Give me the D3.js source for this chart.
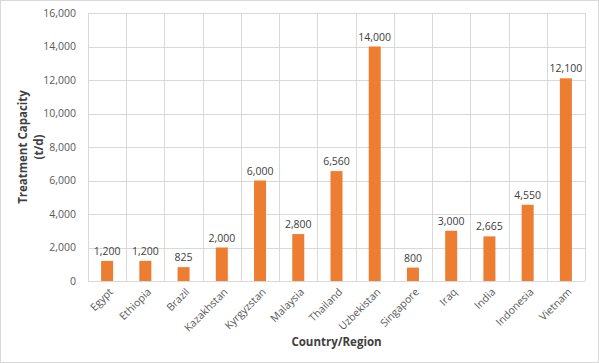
<!DOCTYPE html>
<html><head><meta charset="utf-8">
<script src="https://cdn.jsdelivr.net/npm/d3@7"></script>
<style>body{margin:0;background:#fff;}svg{display:block;font-family:"Open Sans",sans-serif;}</style>
</head><body>
<script>
const categories = ["Egypt","Ethiopia","Brazil","Kazakhstan","Kyrgyzstan","Malaysia","Thailand","Uzbekistan","Singapore","Iraq","India","Indonesia","Vietnam"];
const values = [1200,1200,825,2000,6000,2800,6560,14000,800,3000,2665,4550,12100];
const yTicks = [0,2000,4000,6000,8000,10000,12000,14000,16000];

const W=599,H=363;
const m={left:88,right:14,top:13,bottom:82};
const svg=d3.select("body").append("svg").attr("width",W).attr("height",H);
svg.append("rect").attr("x",0.5).attr("y",0.5).attr("width",W-1).attr("height",H-1).attr("fill","#fff").attr("stroke","#d9d9d9");

const x=d3.scaleBand().domain(categories).range([m.left,W-m.right]).paddingInner(0).paddingOuter(0);
const y=d3.scaleLinear().domain([0,16000]).range([H-m.bottom,m.top]);
const fmt=d3.format(",");

// horizontal gridlines
svg.append("g").selectAll("line").data(yTicks).join("line")
 .attr("x1",m.left).attr("x2",W-m.right).attr("y1",d=>Math.round(y(d))+0.5).attr("y2",d=>Math.round(y(d))+0.5)
 .attr("stroke","#d9d9d9");
// vertical gridlines at category boundaries
const bounds=categories.map(c=>x(c)).concat([x(categories[categories.length-1])+x.bandwidth()]);
svg.append("g").selectAll("line").data(bounds).join("line")
 .attr("x1",d=>Math.round(d)+0.5).attr("x2",d=>Math.round(d)+0.5).attr("y1",m.top).attr("y2",H-m.bottom)
 .attr("stroke","#d9d9d9");

// y tick labels
svg.append("g").selectAll("text").data(yTicks).join("text")
 .attr("x",76).attr("y",d=>y(d)).attr("dy","0.35em").attr("text-anchor","end")
 .attr("font-size",10.5).attr("fill","#595959").text(d=>fmt(d));

// bars
const bw=12;
svg.append("g").selectAll("rect").data(values).join("rect")
 .attr("x",(d,i)=>x(categories[i])+x.bandwidth()/2-bw/2).attr("width",bw)
 .attr("y",d=>y(d)).attr("height",d=>y(0)-y(d)).attr("fill","#ED7D31");

// data labels
svg.append("g").selectAll("text").data(values).join("text")
 .attr("x",(d,i)=>x(categories[i])+x.bandwidth()/2).attr("y",d=>y(d)-6)
 .attr("text-anchor","middle").attr("font-size",10.5).attr("fill","#404040").text(d=>fmt(d));

// x labels
svg.append("g").selectAll("text").data(categories).join("text")
 .attr("transform",c=>`translate(${x(c)+x.bandwidth()/2+4},${y(0)+9}) rotate(-45)`)
 .attr("text-anchor","end").attr("dy","0.35em")
 .attr("font-size",10.5).attr("fill","#595959").text(c=>c);

// axis titles
svg.append("text").attr("x",(m.left+W-m.right)/2).attr("y",346).attr("text-anchor","middle")
 .attr("font-size",11.5).attr("font-weight","bold").attr("fill","#404040").text("Country/Region");
const yt=svg.append("text").attr("transform",`translate(27,${(m.top+H-m.bottom)/2}) rotate(-90)`)
 .attr("text-anchor","middle").attr("font-size",11.5).attr("font-weight","bold").attr("fill","#404040");
yt.append("tspan").attr("x",0).attr("dy",0).text("Treatment Capacity");
yt.append("tspan").attr("x",0).attr("dy",16).text("(t/d)");
</script>
</body></html>
